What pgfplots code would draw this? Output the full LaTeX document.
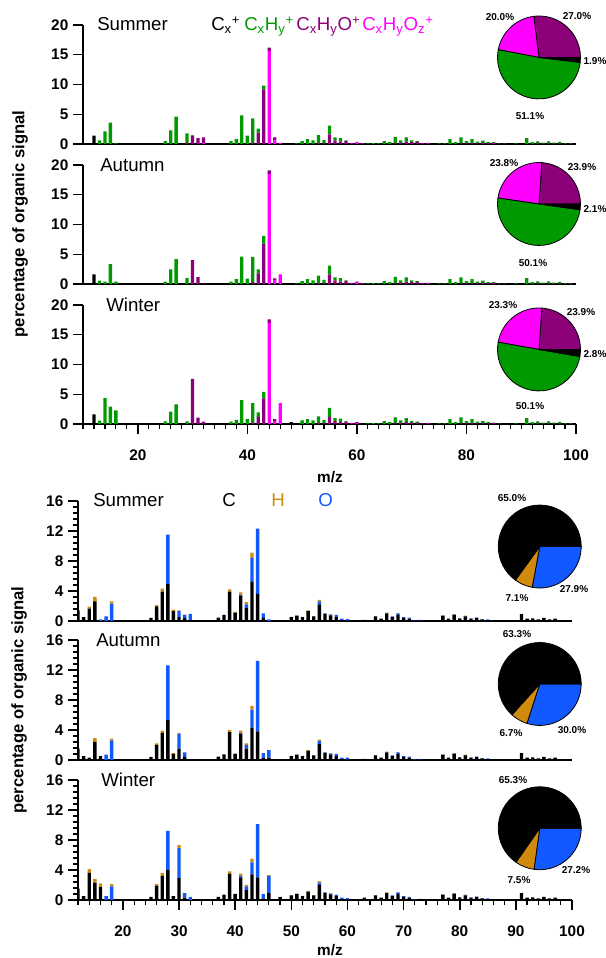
\documentclass[border=0pt]{standalone}
\usepackage{pgfplots}
\usepackage{pgfplotstable}
\pgfplotsset{compat=1.18}
\usepackage{fontspec}
\setmainfont{Liberation Sans}
\definecolor{cgreen}{RGB}{0,153,0}
\definecolor{cpurple}{RGB}{140,0,122}
\definecolor{cmag}{RGB}{255,0,255}
\definecolor{corange}{RGB}{208,138,14}
\definecolor{cblue}{RGB}{18,88,255}

% top panels: m, Cx (K), CxHy (G), CxHyO (P), CxHyOz (M)
\pgfplotstableread{
m K G P M
12 1.4 0 0 0
13 0 0.6 0 0
14 0 2.1 0 0
15 0 3.6 0 0
16 0 0.1 0 0
24 0.1 0 0 0
25 0 0.5 0 0
26 0 2.3 0 0
27 0 4.6 0 0
29 0 1.6 0.2 0
30 0 0.1 1.4 0
31 0 0 1.0 0
32 0 0 0.9 0.2
36 0.1 0 0 0
37 0 0.5 0 0
38 0 0.8 0 0
39 0 4.8 0 0
40 0 1.4 0 0
41 0 4.1 0.2 0
42 0 0.7 1.9 0
43 0 0.6 9.2 0
44 0 0 0.6 15.6
45 0 0 0.5 0.6
46 0 0 0 0.2
49 0 0.1 0 0
50 0 0.5 0 0
51 0 0.8 0 0
52 0 0.6 0 0
53 0 1.3 0.2 0
54 0 0.6 0.1 0
55 0 1.5 1.6 0
56 0 0.5 0.6 0
57 0 0.6 0.4 0
58 0 0.1 0.5 0
59 0 0 0.1 0.1
60 0 0 0.1 0.25
61 0 0 0 0.1
62 0 0.1 0 0
63 0 0.15 0 0
64 0 0.1 0 0
65 0 0.5 0 0
66 0 0.3 0 0
67 0 1.1 0.1 0
68 0 0.4 0.2 0
69 0 0.7 0.4 0
70 0 0.3 0.3 0
71 0 0.2 0.3 0
72 0 0 0.15 0
73 0 0 0.1 0.1
75 0 0.1 0 0
76 0 0.1 0 0
77 0 0.8 0 0
78 0 0.3 0 0
79 0 1.0 0.1 0
80 0 0.4 0.1 0
81 0 0.7 0.1 0
82 0 0.3 0.1 0
83 0 0.4 0.15 0
84 0 0.2 0.1 0
85 0 0.1 0.1 0.1
86 0 0.05 0.05 0
87 0 0.05 0.05 0
89 0 0.1 0 0
91 0 1.0 0 0
92 0 0.3 0 0
93 0 0.4 0.05 0
94 0 0.2 0.05 0
95 0 0.4 0.05 0
96 0 0.2 0.05 0
97 0 0.3 0.05 0
98 0 0.1 0.05 0
99 0 0.1 0.05 0
}\tSum
\pgfplotstableread{
m K G P M
12 1.6 0 0 0
13 0 0.55 0 0
14 0 0.4 0 0
15 0 3.35 0 0
16 0 0.4 0 0
24 0.1 0 0 0
25 0 0.4 0 0
26 0 2.45 0 0
27 0 4.2 0 0
29 0 1.0 0 0
30 0 0 4.0 0
31 0 0 1.15 0
32 0 0 0.1 0
36 0.1 0 0 0
37 0 0.4 0 0
38 0 0.8 0 0
39 0 4.6 0 0
40 0 0.9 0 0
41 0 4.25 0.3 0
42 0 0.65 1.8 0
43 0 1.3 6.8 0
44 0 0 0.6 18.5
45 0 0 0.4 0.55
46 0 0 0 1.6
49 0 0.1 0 0
50 0 0.5 0 0
51 0 0.8 0 0
52 0 0.6 0 0
53 0 1.2 0.2 0
54 0 0.6 0.1 0
55 0 1.5 1.6 0
56 0 0.5 0.6 0
57 0 0.6 0.4 0
58 0 0.1 0.5 0
59 0 0 0.1 0.1
60 0 0 0.1 0.3
61 0 0 0 0.1
62 0 0.1 0 0
63 0 0.15 0 0
64 0 0.1 0 0
65 0 0.5 0 0
66 0 0.3 0 0
67 0 1.1 0.1 0
68 0 0.4 0.2 0
69 0 0.7 0.4 0
70 0 0.3 0.3 0
71 0 0.2 0.3 0
72 0 0 0.15 0
73 0 0 0.1 0.1
75 0 0.1 0 0
76 0 0.1 0 0
77 0 0.8 0 0
78 0 0.3 0 0
79 0 1.0 0.1 0
80 0 0.4 0.1 0
81 0 0.7 0.1 0
82 0 0.3 0.1 0
83 0 0.4 0.15 0
84 0 0.2 0.1 0
85 0 0.1 0.1 0.1
86 0 0.05 0.05 0
87 0 0.05 0.05 0
89 0 0.1 0 0
91 0 1.0 0 0
92 0 0.3 0 0
93 0 0.4 0.05 0
94 0 0.2 0.05 0
95 0 0.4 0.05 0
96 0 0.2 0.05 0
97 0 0.3 0.05 0
98 0 0.1 0.05 0
99 0 0.1 0.05 0
}\tAut
\pgfplotstableread{
m K G P M
12 1.6 0 0 0
13 0 0.55 0 0
14 0 4.4 0 0
15 0 2.9 0 0
16 0 2.3 0 0
24 0.1 0 0 0
25 0 0.45 0 0
26 0 2.1 0 0
27 0 3.3 0 0
29 0 0.45 0 0
30 0 0 7.6 0
31 0 0 1.05 0
32 0 0 0.4 0
36 0.1 0 0 0
37 0 0.4 0 0
38 0 0.7 0 0
39 0 4.0 0 0
40 0 0.85 0 0
41 0 3.3 0.2 0
42 0 0.75 1.2 0
43 0 1.1 4.3 0
44 0 0 0.6 17.0
45 0 0 0.3 0.5
46 0 0 0 3.5
48 0.3 0 0 0
50 0 0.6 0 0
51 0 0.8 0 0
52 0 0.6 0 0
53 0 1.1 0.2 0
54 0 0.6 0.1 0
55 0 1.5 1.2 0
56 0 0.5 0.5 0
57 0 0.6 0.3 0
58 0 0.1 0.4 0
59 0 0 0.1 0.1
60 0 0 0.1 0.2
62 0 0.1 0 0
63 0 0.15 0 0
64 0 0.1 0 0
65 0 0.5 0 0
66 0 0.3 0 0
67 0 1.0 0.1 0
68 0 0.4 0.2 0
69 0 0.7 0.3 0
70 0 0.3 0.2 0
71 0 0.2 0.2 0
72 0 0 0.1 0
73 0 0 0.1 0.1
75 0 0.1 0 0
76 0 0.1 0 0
77 0 0.8 0 0
78 0 0.3 0 0
79 0 1.0 0.1 0
80 0 0.4 0.1 0
81 0 0.7 0.1 0
82 0 0.3 0.1 0
83 0 0.4 0.1 0
84 0 0.2 0.1 0
85 0 0.1 0.1 0.05
86 0 0.05 0.05 0
89 0 0.1 0 0
91 0 1.0 0 0
92 0 0.3 0 0
93 0 0.4 0.05 0
94 0 0.2 0.05 0
95 0 0.4 0.05 0
96 0 0.2 0.05 0
97 0 0.3 0.05 0
98 0 0.1 0.05 0
99 0 0.1 0.05 0
}\tWin

% bottom panels: m, C, O, H
\pgfplotstableread{
m C O H
12 1.4 0 0
13 0.5 0 0
14 1.65 0 0.25
15 2.6 0 0.6
16 0 0.2 0
17 0 0.6 0
18 0 2.3 0.3
24 0.1 0 0
25 0.4 0 0
26 1.95 0 0.15
27 3.9 0 0.4
28 4.9 6.6 0
29 1.3 0 0.2
30 0.5 0.85 0.05
31 0.4 0.4 0.05
32 0.1 0.85 0
36 0.1 0 0
37 0.45 0 0
38 0.8 0 0
39 3.9 0 0.3
40 1.1 0 0.1
41 3.4 0.1 0.3
42 1.7 0.5 0.3
43 5.2 3.2 0.7
44 3.6 8.7 0
45 0.4 0.6 0
46 0 0.2 0
48 0.1 0 0
50 0.5 0 0.05
51 0.7 0 0.05
52 0.5 0 0.05
53 1.3 0 0.1
54 0.6 0 0.05
55 2.2 0.4 0.2
56 0.9 0.1 0.05
57 0.75 0.1 0.05
58 0.5 0.3 0
59 0.1 0.2 0
60 0.05 0.2 0
62 0.1 0 0
63 0.15 0 0
64 0.1 0 0
65 0.6 0 0.05
66 0.3 0 0
67 1.0 0 0.1
68 0.5 0.1 0
69 0.8 0.2 0.05
70 0.4 0.1 0
71 0.3 0.15 0
72 0.05 0.05 0
73 0.05 0.1 0
75 0.1 0 0
76 0.1 0 0
77 0.7 0 0.05
78 0.3 0 0
79 0.8 0.05 0.05
80 0.35 0 0
81 0.6 0.05 0.05
82 0.3 0.05 0
83 0.4 0.05 0
84 0.2 0.05 0
85 0.1 0.1 0
86 0.05 0 0
89 0.1 0 0
91 0.9 0 0.05
92 0.3 0 0
93 0.35 0 0
94 0.2 0 0
95 0.4 0 0
96 0.2 0 0
97 0.3 0 0
98 0.1 0 0
99 0.1 0 0
}\bSum
\pgfplotstableread{
m C O H
12 1.5 0 0
13 0.5 0 0
14 0.3 0 0
15 2.4 0 0.5
16 0.5 0 0
17 0 0.7 0
18 0 2.6 0.25
24 0.1 0 0
25 0.4 0 0
26 2.0 0 0.2
27 3.6 0 0.3
28 5.3 7.3 0
29 0.8 0 0.1
30 1.5 2.0 0.1
31 0.4 0.6 0
36 0.1 0 0
37 0.45 0 0
38 0.75 0 0
39 3.7 0 0.3
40 0.8 0 0.05
41 3.5 0.1 0.3
42 1.5 0.5 0.2
43 4.3 2.4 0.5
44 3.8 9.4 0
45 0.3 0.6 0
46 0.3 1.0 0
48 0.1 0 0
50 0.5 0 0.05
51 0.7 0 0.05
52 0.5 0 0.05
53 1.2 0 0.1
54 0.6 0 0.05
55 2.1 0.4 0.2
56 0.9 0.1 0.05
57 0.75 0.1 0.05
58 0.5 0.3 0
59 0.1 0.2 0
60 0.05 0.25 0
62 0.1 0 0
63 0.15 0 0
64 0.1 0 0
65 0.6 0 0.05
66 0.3 0 0
67 1.0 0 0.1
68 0.5 0.1 0
69 0.8 0.2 0.05
70 0.4 0.1 0
71 0.3 0.15 0
72 0.05 0.05 0
73 0.05 0.1 0
75 0.1 0 0
76 0.1 0 0
77 0.7 0 0.05
78 0.3 0 0
79 0.8 0.05 0.05
80 0.35 0 0
81 0.6 0.05 0.05
82 0.3 0.05 0
83 0.4 0.05 0
84 0.2 0.05 0
85 0.1 0.1 0
86 0.05 0 0
89 0.1 0 0
91 0.9 0 0.05
92 0.3 0 0
93 0.35 0 0
94 0.2 0 0
95 0.4 0 0
96 0.2 0 0
97 0.3 0 0
98 0.1 0 0
99 0.1 0 0
}\bAut
\pgfplotstableread{
m C O H
12 1.5 0 0
13 0.5 0 0
14 3.6 0 0.5
15 2.3 0 0.5
16 1.7 0 0.5
17 0 0.5 0
18 0 1.8 0.3
24 0.1 0 0
25 0.4 0 0
26 1.9 0 0.2
27 3.2 0 0.4
28 4.0 5.2 0
29 0.5 0 0
30 2.9 4.0 0.4
31 0.3 0.6 0
32 0 0.4 0
36 0.1 0 0
37 0.4 0 0
38 0.7 0 0
39 3.5 0 0.3
40 0.8 0 0
41 3.0 0.2 0.3
42 1.3 0.5 0.2
43 3.4 1.6 0.5
44 3.0 7.1 0
45 0.2 0.6 0
46 0.9 2.3 0.1
48 0.4 0 0
50 0.6 0 0.05
51 0.8 0 0.05
52 0.5 0 0.05
53 1.1 0 0.1
54 0.6 0 0.05
55 2.0 0.3 0.2
56 0.9 0.1 0.05
57 0.75 0.1 0.05
58 0.5 0.2 0
59 0.1 0.2 0
60 0.05 0.2 0
62 0.1 0 0
63 0.3 0 0
64 0.1 0 0
65 0.6 0 0.05
66 0.3 0 0
67 0.9 0 0.1
68 0.5 0.1 0
69 0.8 0.2 0.05
70 0.4 0.1 0
71 0.3 0.1 0
72 0.05 0.05 0
73 0.1 0.05 0
75 0.1 0 0
76 0.1 0 0
77 0.7 0 0.05
78 0.3 0 0
79 0.8 0.05 0.05
80 0.35 0 0
81 0.6 0.05 0.05
82 0.3 0.05 0
83 0.4 0.05 0
84 0.2 0.05 0
85 0.1 0.1 0
86 0.05 0 0
89 0.1 0 0
91 0.9 0 0.05
92 0.3 0 0
93 0.35 0 0
94 0.2 0 0
95 0.4 0 0
96 0.2 0 0
97 0.3 0 0
98 0.1 0 0
99 0.1 0 0
}\bWin

\pgfplotsset{
  base/.style={scale only axis, axis lines=left,
    axis line style={line width=0.9pt,-},
    tick align=outside, tick style={line width=0.9pt,black},
    major tick length=7.5pt, minor tick length=4pt,
    ybar stacked, bar width=0.6,
    /pgf/number format/assume math mode=true,
    ticklabel style={font=\bfseries\fontsize{11.5}{13}\selectfont},
    xticklabel style={yshift=-8.5pt},
    xtick=\empty},
  top/.style={base, width=369.75pt, height=89.25pt, xmin=10, xmax=100,
    ymin=0, ymax=20, ytick={0,5,10,15,20}},
  bot/.style={base, width=370.5pt, height=90pt, xmin=12, xmax=100,
    ymin=0, ymax=16, ytick={0,4,8,12,16}, minor y tick num=4},
  pie/.style={hide axis, scale only axis, width=62.2pt, height=62.2pt,
    xmin=-1, xmax=1, ymin=-1, ymax=1, anchor=center, clip=false},
}
\newcommand{\topbars}[1]{%
  \addplot[fill=cmag,draw=none] table[x=m,y=M]{#1};
  \addplot[fill=cpurple,draw=none] table[x=m,y=P]{#1};
  \addplot[fill=cgreen,draw=none] table[x=m,y=G]{#1};
  \addplot[fill=black,draw=none] table[x=m,y=K]{#1};}
\newcommand{\botbars}[1]{%
  \addplot[fill=black,draw=none] table[x=m,y=C]{#1};
  \addplot[fill=cblue,draw=none] table[x=m,y=O]{#1};
  \addplot[fill=corange,draw=none] table[x=m,y=H]{#1};}
% slice: colour, start angle, end angle
\newcommand{\slice}[3]{\filldraw[fill=#1,draw=black,line width=0.6pt]
  (axis cs:0,0) -- (axis cs:{cos(#2)},{sin(#2)}) arc[start angle=#2,end angle=#3,radius=31.1pt] -- cycle;}
% top pie: purple, magenta, green, black percentages (ccw from 0 deg)
\newcommand{\toppie}[4]{%
  \pgfmathsetmacro\aA{#1*3.6}\pgfmathsetmacro\aB{(#1+#2)*3.6}\pgfmathsetmacro\aC{(#1+#2+#3)*3.6}%
  \slice{cpurple}{0}{\aA}\slice{cmag}{\aA}{\aB}\slice{cgreen}{\aB}{\aC}\slice{black}{\aC}{360}}
% bottom pie: blue, orange, black (cw from 0 deg)
\newcommand{\botpie}[3]{%
  \pgfmathsetmacro\aA{-#1*3.6}\pgfmathsetmacro\aB{-(#1+#2)*3.6}%
  \slice{cblue}{\aA}{0}\slice{corange}{\aB}{\aA}\slice{black}{-360}{\aB}}

\begin{document}
\begin{tikzpicture}[x=0.75pt,y=0.75pt]
\useasboundingbox (0,0) rectangle (606,958);
% ---------- top group ----------
\begin{axis}[top, at={(62.25pt,610.5pt)}]
\topbars{\tSum}
\end{axis}
\begin{axis}[top, at={(62.25pt,505.5pt)}]
\topbars{\tAut}
\end{axis}
\begin{axis}[top, at={(62.25pt,400.5pt)},
  xtick={20,40,60,80,100}, minor xtick={10,12,...,100},
  major x tick style={line width=1.2pt}]
\topbars{\tWin}
\end{axis}
% ---------- bottom group ----------
\begin{axis}[bot, at={(58.5pt,252.75pt)}]
\botbars{\bSum}
\end{axis}
\begin{axis}[bot, at={(58.5pt,148.5pt)}]
\botbars{\bAut}
\end{axis}
\begin{axis}[bot, at={(58.5pt,43.5pt)},
  xtick={20,30,...,100}, minor xtick={12,14,...,100},
  major x tick style={line width=1.2pt}]
\botbars{\bWin}
\end{axis}
% ---------- pies ----------
\begin{axis}[pie, at={(404.25pt,675.4pt)}] \toppie{27.0}{20.0}{51.1}{1.9} \end{axis}
\begin{axis}[pie, at={(404.25pt,565.5pt)}] \toppie{23.9}{23.8}{50.1}{2.1} \end{axis}
\begin{axis}[pie, at={(404.25pt,456.4pt)}] \toppie{23.9}{23.3}{50.1}{2.8} \end{axis}
\begin{axis}[pie, at={(404.8pt,308.6pt)}] \botpie{27.9}{7.1}{65.0} \end{axis}
\begin{axis}[pie, at={(404.8pt,205.5pt)}] \botpie{30.0}{6.7}{63.3} \end{axis}
\begin{axis}[pie, at={(404.8pt,97.3pt)}] \botpie{27.2}{7.5}{65.3} \end{axis}
% ---------- texts ----------
\tikzset{lab/.style={font=\fontsize{14}{16}\selectfont, anchor=base west, inner sep=0pt},
         pl/.style={font=\bfseries\fontsize{7.5}{9}\selectfont, inner sep=0pt}}
\node[lab] at (97,927) {Summer};
\node[lab] at (100,786) {Autumn};
\node[lab] at (106,646) {Winter};
\node[lab] at (211,927) {C\textsubscript{x}\textsuperscript{+}};
\node[lab,text=cgreen] at (244,927) {C\textsubscript{x}H\textsubscript{y}\textsuperscript{+}};
\node[lab,text=cpurple] at (296,927) {C\textsubscript{x}H\textsubscript{y}O\textsuperscript{+}};
\node[lab,text=cmag] at (362,927) {C\textsubscript{x}H\textsubscript{y}O\textsubscript{z}\textsuperscript{+}};
\node[lab] at (93,451) {Summer};
\node[lab] at (96,311) {Autumn};
\node[lab] at (101,171) {Winter};
\node[lab] at (222,451) {C};
\node[lab,text=corange] at (271,451) {H};
\node[lab,text=cblue] at (318,451) {O};
\node[font=\bfseries\fontsize{12.5}{14}\selectfont, rotate=90] at (20,734) {percentage of organic signal};
\node[font=\bfseries\fontsize{12.5}{14}\selectfont, rotate=90] at (19,258) {percentage of organic signal};
\node[font=\bfseries\fontsize{11.5}{13}\selectfont] at (330,481) {m/z};
\node[font=\bfseries\fontsize{11.5}{13}\selectfont] at (330,8) {m/z};
% pie labels
\node[pl] at (500,941) {20.0\%}; \node[pl] at (577,942) {27.0\%};
\node[pl] at (595,897) {1.9\%};  \node[pl] at (530,842) {51.1\%};
\node[pl] at (504,795) {23.8\%}; \node[pl] at (582,791) {23.9\%};
\node[pl] at (595,749) {2.1\%};  \node[pl] at (533,695) {50.1\%};
\node[pl] at (503,653) {23.3\%}; \node[pl] at (581,646) {23.9\%};
\node[pl] at (595,604) {2.8\%};  \node[pl] at (530,552) {50.1\%};
\node[pl] at (512,460) {65.0\%}; \node[pl] at (574,369) {27.9\%};
\node[pl] at (517,360) {7.1\%};
\node[pl] at (517,324) {63.3\%}; \node[pl] at (572,228) {30.0\%};
\node[pl] at (511,225) {6.7\%};
\node[pl] at (513,178) {65.3\%}; \node[pl] at (576,88) {27.2\%};
\node[pl] at (519,78) {7.5\%};
\end{tikzpicture}
\end{document}
